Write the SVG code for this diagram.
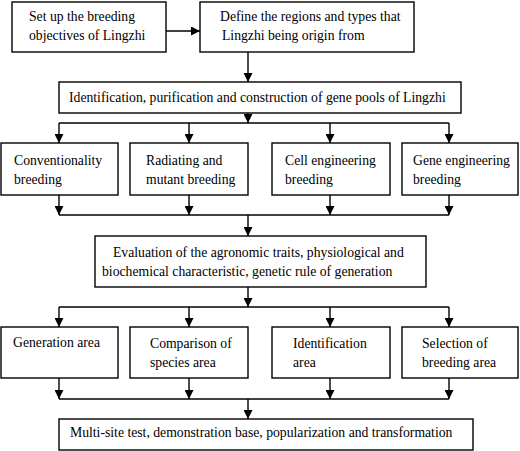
<svg xmlns="http://www.w3.org/2000/svg" width="520" height="451" viewBox="0 0 520 451">
<style>
.box{fill:#fff;stroke:#000;stroke-width:1.4}
.c{fill:none;stroke:#000;stroke-width:1.4}
</style>
<defs>
<marker id="ah" markerUnits="userSpaceOnUse" markerWidth="9" markerHeight="9" refX="9" refY="4.5" orient="auto">
<path d="M0,0 L9,4.5 L0,9 z" fill="#000"/>
</marker>
</defs>
<rect width="520" height="451" fill="#fff"/>
<g id="connectors">
<line class="c" x1="166" y1="31" x2="200" y2="31" marker-end="url(#ah)"/>
<line class="c" x1="248" y1="52" x2="248" y2="82" marker-end="url(#ah)"/>
<line class="c" x1="248" y1="113" x2="248" y2="123" marker-end="url(#ah)"/>
<path class="c" d="M59,123 H449"/>
<line class="c" x1="59" y1="123" x2="59" y2="143" marker-end="url(#ah)"/>
<line class="c" x1="189" y1="123" x2="189" y2="143" marker-end="url(#ah)"/>
<line class="c" x1="330" y1="123" x2="330" y2="143" marker-end="url(#ah)"/>
<line class="c" x1="449" y1="123" x2="449" y2="143" marker-end="url(#ah)"/>
<line class="c" x1="59" y1="195" x2="59" y2="215" marker-end="url(#ah)"/>
<line class="c" x1="189" y1="195" x2="189" y2="215" marker-end="url(#ah)"/>
<line class="c" x1="330" y1="195" x2="330" y2="215" marker-end="url(#ah)"/>
<line class="c" x1="449" y1="195" x2="449" y2="215" marker-end="url(#ah)"/>
<path class="c" d="M59,215 H449"/>
<line class="c" x1="248" y1="215" x2="248" y2="236" marker-end="url(#ah)"/>
<line class="c" x1="248" y1="287" x2="248" y2="307" marker-end="url(#ah)"/>
<path class="c" d="M59,307 H449"/>
<line class="c" x1="59" y1="307" x2="59" y2="327" marker-end="url(#ah)"/>
<line class="c" x1="189" y1="307" x2="189" y2="327" marker-end="url(#ah)"/>
<line class="c" x1="330" y1="307" x2="330" y2="327" marker-end="url(#ah)"/>
<line class="c" x1="449" y1="307" x2="449" y2="327" marker-end="url(#ah)"/>
<line class="c" x1="59" y1="378" x2="59" y2="399" marker-end="url(#ah)"/>
<line class="c" x1="189" y1="378" x2="189" y2="399" marker-end="url(#ah)"/>
<line class="c" x1="330" y1="378" x2="330" y2="399" marker-end="url(#ah)"/>
<line class="c" x1="449" y1="378" x2="449" y2="399" marker-end="url(#ah)"/>
<path class="c" d="M59,399 H449"/>
<line class="c" x1="248" y1="399" x2="248" y2="419" marker-end="url(#ah)"/>
</g>
<g id="nodes" font-family="Liberation Serif, Times New Roman, serif" font-size="13.7" fill="#000">
<g id="n1"><rect class="box" x="12" y="2" width="154" height="50"/>
<text x="29" y="21">Set up the breeding</text><text x="29" y="40">objectives of Lingzhi</text></g>
<g id="n2"><rect class="box" x="200" y="2" width="214" height="50"/>
<text x="220" y="21">Define the regions and types that</text><text x="222" y="40">Lingzhi being origin from</text></g>
<g id="n3"><rect class="box" x="59" y="82" width="402" height="31"/>
<text x="69" y="102">Identification, purification and construction of gene pools of Lingzhi</text></g>
<g id="n4"><rect class="box" x="1" y="143" width="117" height="52"/>
<text x="14" y="165">Conventionality</text><text x="14" y="184">breeding</text></g>
<g id="n5"><rect class="box" x="130" y="143" width="118" height="52"/>
<text x="146" y="165">Radiating and</text><text x="146" y="184">mutant breeding</text></g>
<g id="n6"><rect class="box" x="272" y="143" width="118" height="52"/>
<text x="285" y="165">Cell engineering</text><text x="285" y="184">breeding</text></g>
<g id="n7"><rect class="box" x="402" y="143" width="116" height="52"/>
<text x="413" y="165">Gene engineering</text><text x="413" y="184">breeding</text></g>
<g id="n8"><rect class="box" x="95" y="236" width="331" height="51"/>
<text x="113" y="257">Evaluation of the agronomic traits, physiological and</text><text x="102" y="276">biochemical characteristic, genetic rule of generation</text></g>
<g id="n9"><rect class="box" x="1" y="327" width="117" height="51"/>
<text x="13" y="347">Generation area</text></g>
<g id="n10"><rect class="box" x="130" y="327" width="118" height="51"/>
<text x="150" y="348">Comparison of</text><text x="150" y="367">species area</text></g>
<g id="n11"><rect class="box" x="272" y="327" width="118" height="51"/>
<text x="293" y="348">Identification</text><text x="293" y="367">area</text></g>
<g id="n12"><rect class="box" x="402" y="327" width="116" height="51"/>
<text x="422" y="348">Selection of</text><text x="422" y="367">breeding area</text></g>
<g id="n13"><rect class="box" x="59" y="419" width="414" height="31"/>
<text x="70" y="437">Multi-site test, demonstration base, popularization and transformation</text></g>
</g>
</svg>
